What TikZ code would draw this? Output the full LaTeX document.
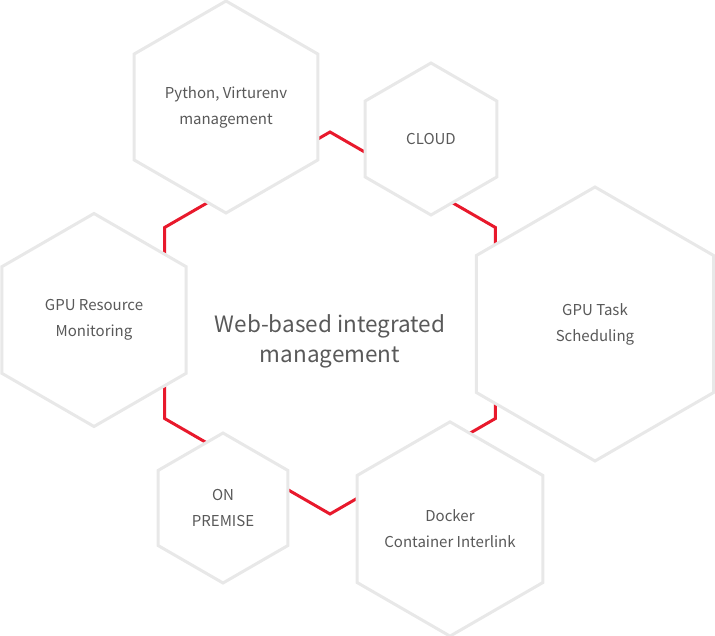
\documentclass[tikz,border=0pt]{standalone}
\usepackage{fontspec}
\newfontfamily\krfont{Noto Sans CJK KR}
\usetikzlibrary{shapes.geometric}
\definecolor{hexred}{HTML}{E8192C}
\definecolor{hexgrey}{HTML}{E8E8E8}
\definecolor{labelgrey}{HTML}{595959}

\tikzset{
  hexcell/.style={regular polygon, regular polygon sides=6, shape border rotate=30,
    inner sep=0pt, outer sep=0pt, minimum size=#1},
  hub/.style={hexcell=#1, draw=hexred, line width=3pt},
  cell/.style={hexcell=#1, draw=hexgrey, fill=white, line width=3pt,
    text=labelgrey, align=center, font=\krfont\fontsize{15}{26}\selectfont},
  hubtext/.style={text=labelgrey, align=center, inner sep=0pt,
    font=\krfont\fontsize{22.5}{30}\selectfont}
}

\begin{document}
\begin{tikzpicture}[x=1pt, y=-1pt]
  \useasboundingbox (0,0) rectangle (715,636);
  % red ring behind the grey cells
  \node[hub=382pt] (hub) at (330,323) {};
  \node[hubtext] (title) at ([yshift=-18pt]hub.center) {Web-based integrated\\management};
  % grey cells
  \node[cell=212pt] (python) at (226,107) {Python, Virturenv\\management};
  \node[cell=152pt] (cloud) at (431,139) {CLOUD};
  \node[cell=274pt] (task) at (595,324) {GPU Task\\Scheduling};
  \node[cell=213pt] (monitor) at (94,320) {GPU Resource\\Monitoring};
  \node[cell=150pt] (premise) at (223,508) {ON\\PREMISE};
  \node[cell=212pt] (docker) at (450,529) {Docker\\Container Interlink};
\end{tikzpicture}
\end{document}
